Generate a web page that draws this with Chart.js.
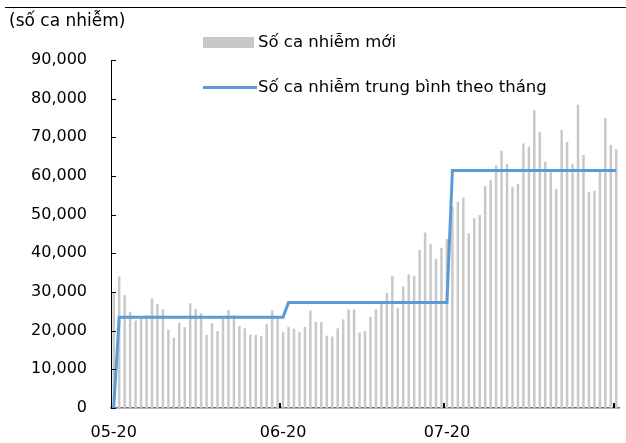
<!DOCTYPE html>
<html>
<head>
<meta charset="utf-8">
<script src="https://cdn.jsdelivr.net/npm/chart.js@4.4.1/dist/chart.umd.min.js"></script>
<style>
  html, body { margin: 0; padding: 0; background: #fff; }
  #wrap { position: relative; width: 626px; height: 443px; font-family: "DejaVu Sans", sans-serif; color: #000; }
  #myChart { position: absolute; left: 0; top: 0; }
  .topline { position: absolute; left: 5px; right: 0; top: 7px; border-top: 1px solid #000; }
  .unit { position: absolute; left: 9px; top: 10px; font-size: 17px; line-height: 20px; }
  .leg { position: absolute; left: 203px; height: 20px; font-size: 16.5px; line-height: 20px; display: flex; align-items: center; white-space: nowrap; }
  .box { width: 51px; height: 11px; background: rgb(200, 200, 200); margin-right: 4px; }
  .ln { width: 54px; height: 3px; background: rgb(91, 155, 213); margin-right: 1px; }
</style>
</head>
<body>
<div id="wrap">
  <canvas id="myChart" width="626" height="443"></canvas>
  <div class="topline"></div>
  <div class="unit">(số ca nhiễm)</div>
  <div class="leg" style="top:32px"><div class="box"></div><span>Số ca nhiễm mới</span></div>
  <div class="leg" style="top:77px"><div class="ln"></div><span>Số ca nhiễm trung bình theo tháng</span></div>
</div>
<script>
// months on the axis and how many days of each are in the data
const months = ['05-20', '06-20', '07-20', '08-20'];
const monthDays = [31, 30, 31, 1];
const labelledMonths = ['05-20', '06-20', '07-20'];

// daily new cases
const newCases = [
  // May
  29700, 34000, 29200, 24900, 22600, 23200, 24000, 28400, 26900, 25600,
  20200, 18200, 22100, 20900, 27100, 25600, 24500, 18900, 21900, 19900,
  23200, 25300, 24000, 21200, 20600, 19000, 18900, 18600, 21700, 25300,
  23400,
  // June
  19700, 21000, 20500, 19700, 21000, 25200, 22200, 22200, 18700, 18500,
  20600, 22900, 25500, 25500, 19500, 19900, 23600, 25500, 27500, 29800,
  34100, 25800, 31400, 34600, 34200, 40900, 45400, 42400, 38600, 41400,
  // July
  43700, 52100, 53300, 54400, 45200, 49100, 49900, 57400, 59000, 62800,
  66500, 63100, 57200, 58000, 68400, 67600, 77000, 71400, 63700, 61700,
  56600, 71900, 68800, 63200, 78400, 65400, 55900, 56200, 61300, 75000,
  68000,
  // Aug 1
  66900
];

// monthly average line (corner points of the step)
const avgDays = ['1/05-20', '2/05-20', '1/06-20', '2/06-20', '1/07-20', '2/07-20', '1/08-20'];
const avgValues = [0, 23500, 23500, 27300, 27300, 61400, 61400];

const dayLabels = [];
months.forEach((m, k) => {
  for (let d = 1; d <= monthDays[k]; d++) dayLabels.push(d + '/' + m);
});

// small tick marks drawn inward, like the original
const innerTicks = {
  id: 'innerTicks',
  afterDatasetsDraw(chart) {
    const ctx = chart.ctx;
    const area = chart.chartArea;
    const x = chart.scales.x;
    const y = chart.scales.y;
    ctx.save();
    ctx.strokeStyle = '#000';
    ctx.lineWidth = 1;
    y.ticks.forEach((t, i) => {
      const py = Math.round(y.getPixelForTick(i)) + 0.5;
      ctx.beginPath();
      ctx.moveTo(area.left, py);
      ctx.lineTo(area.left + 5, py);
      ctx.stroke();
    });
    const half = (x.getPixelForValue(1) - x.getPixelForValue(0)) / 2;
    ctx.lineWidth = 2;
    dayLabels.forEach((lab, i) => {
      if (i === 0 || !lab.startsWith('1/')) return;
      const px = Math.round(x.getPixelForValue(i) - half);
      ctx.beginPath();
      ctx.moveTo(px, area.bottom);
      ctx.lineTo(px, area.bottom - 5);
      ctx.stroke();
    });
    ctx.restore();
  }
};

const ctx = document.getElementById('myChart').getContext('2d');
const myChart = new Chart(ctx, {
  data: {
    labels: dayLabels,
    datasets: [
      {
        type: 'line',
        label: 'Số ca nhiễm trung bình theo tháng',
        data: avgDays.map((d, i) => ({ x: d, y: avgValues[i] })),
        borderColor: 'rgb(91, 155, 213)',
        borderWidth: 3,
        pointRadius: 0,
        tension: 0,
        fill: false,
        order: 0
      },
      {
        type: 'bar',
        label: 'Số ca nhiễm mới',
        data: newCases,
        backgroundColor: 'rgb(200, 200, 200)',
        barPercentage: 0.45,
        categoryPercentage: 1,
        order: 1
      }
    ]
  },
  plugins: [innerTicks],
  options: {
    responsive: false,
    animation: false,
    layout: { padding: { top: 60, right: 7, left: 0, bottom: 0 } },
    plugins: {
      legend: { display: false },
      tooltip: { enabled: false }
    },
    scales: {
      x: {
        type: 'category',
        offset: true,
        grid: { display: false },
        border: { display: true, color: '#6e6e6e', width: 1.5 },
        ticks: {
          autoSkip: false,
          maxRotation: 0,
          minRotation: 0,
          padding: 7,
          color: '#000',
          font: { family: 'DejaVu Sans', size: 16 },
          callback: function(val, idx) {
            const lab = dayLabels[idx];
            const m = lab.split('/')[1];
            return (lab.startsWith('1/') && labelledMonths.includes(m)) ? m : '';
          }
        },
        afterFit: function(scale) {
          scale.height = 35;
          scale.paddingLeft = 0;
          scale.paddingRight = 0;
        }
      },
      y: {
        min: 0,
        max: 90000,
        grid: { display: false },
        border: { display: true, color: '#000', width: 1 },
        ticks: {
          stepSize: 10000,
          padding: 16,
          color: '#000',
          font: { family: 'DejaVu Sans', size: 16 },
          callback: v => v.toLocaleString('en-US')
        },
        afterFit: function(scale) { scale.width = 111; }
      }
    }
  }
});
</script>
</body>
</html>
